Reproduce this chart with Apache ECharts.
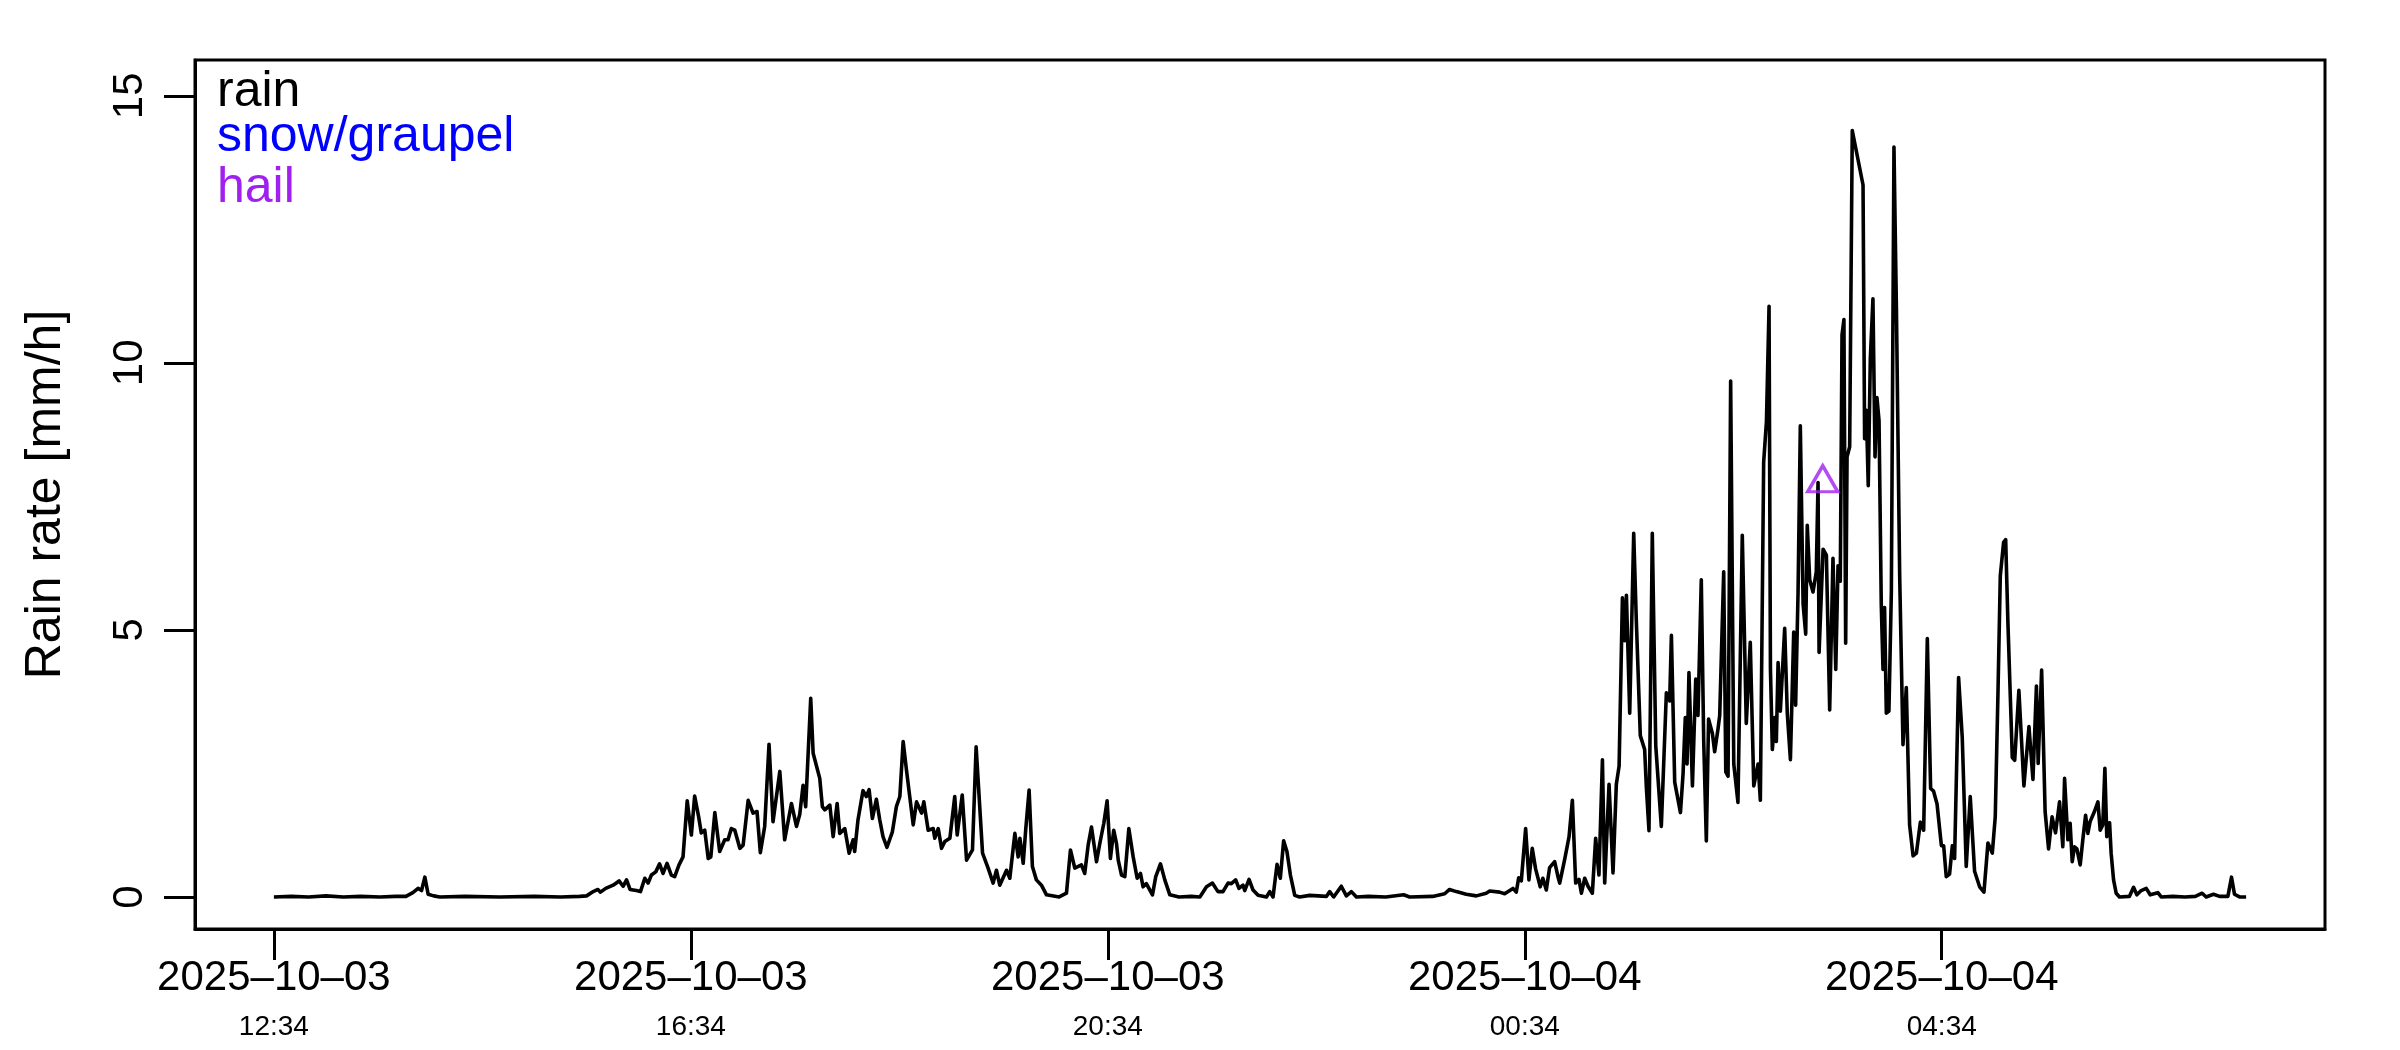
<!DOCTYPE html>
<html>
<head>
<meta charset="utf-8">
<script src="https://cdn.jsdelivr.net/npm/echarts@6/dist/echarts.min.js"></script>
<style>
html,body{margin:0;padding:0;background:#fff;}
#chart{width:2400px;height:1050px;}
</style>
</head>
<body>
<div id="chart"></div>
<script>
// Start of record: 2025-10-03 12:34 (minutes below are offsets from it)
const startTime = "2025-10-03T12:34:00Z";
const xTickMinutes = [0, 240, 480, 720, 960];
const yTicks = [0, 5, 10, 15];
const legendLabels = ["rain", "snow/graupel", "hail"];

const minutes = [
0,10,20,30,40,50,61,70,76,80,83,85,86.9,88.8,92,95.5,110,130,150,165,176,180,183.8,186.5,188,191,195.3,198.7,201,203,205,208.7,211,213.5,215.4,217.3,219.8,222,224,226.3,228.8,230.7,233.2,235.5,
237.9,240.3,242.2,244.5,246,248,250,251.5,253.8,256.6,259.5,261.4,263.3,265.3,268.2,270.1,273,275.8,278.1,280,282.5,285,287.3,291.2,294,297.9,300.8,302.7,304.6,306.1,309,310.4,314.2,315.7,317.1,320,321.9,324.2,325.7,328.6,331.1,333.4,334.3,336.2,339.1,341,342.6,344.5,346.8,348.7,350.6,352.9,356,358.3,
360.3,362.2,364.1,368,369.9,372.8,374.1,376.6,379.5,380.4,382.4,384.3,386.2,389.1,391.9,393.3,396.2,398.7,402.1,404.2,407.9,411.1,414,415.9,417.8,421.7,423.6,426.5,428.4,429.4,431.3,432.8,434.7,436.6,438.9,441.8,444.7,452,456.2,458.5,461,464.8,466.7,468.7,470.6,473.5,475.4,477.7,479.6,481.5,483.4,485,486,487.9,489.8,492.1,494.6,496.9,498.8,500.3,502.2,505.7,507.6,510.3,512.8,515.7,521,528,
533,536.8,540.2,543.4,546.3,549.2,551.1,553.6,555.5,557.8,558.8,561.3,563.6,566.5,571.3,573.2,575.1,577.4,579.3,581.2,583.1,585.1,587.6,590.4,596.2,605.8,607.7,610,614.4,617.3,620.2,623.1,630,640,650.3,653.7,667,673.9,676.7,680.6,686.3,692.1,697.8,699.8,705.5,708.4,713.2,715.1,716.5,718,720.5,722.4,724.3,726.2,728.9,730.4,732.4,734.3,737.2,739.1,
740.1,743,745.5,747.4,749.3,751.2,752.6,754.5,756.4,758.9,760.8,762.7,764.7,766,768.5,770.8,772.7,774.3,776.2,777.5,778.5,780.4,782.7,784.2,786.5,789,790,791.5,793.4,795.4,798.6,801.5,803.4,804.4,806.3,809.6,811.1,812.4,813.4,814.5,816.5,818.4,819.7,821.6,823,824.5,825.8,828,829.3,831.2,
832.2,834.5,835.7,837,838.5,840.3,842.7,845.2,847.5,849.8,851.8,854.3,855.6,857.5,859.1,860.6,861.4,862.5,863.9,864.8,865.8,867.1,869.6,871.1,872.9,874.8,875.9,877.3,878.6,880.2,881.7,882.6,884,885.9,887.8,888.8,889.4,891.7,893.6,
895.5,897.4,899,900.3,901.6,902.6,903.7,904.7,905.5,907,908.5,914.7,915.6,916.6,917.7,918.9,920.4,921.6,922.7,923.9,925.2,926.2,927.1,928.1,929.6,931,932.5,933.9,935.8,937.7,939.6,941.5,943.5,945.4,947.7,949.6,951.7,953.6,955.3,957.3,959.8,961.1,962.6,964.5,966.1,967.4,969.7,971.8,974.1,976.4,978.9,981.8,984.3,986.6,989.1,990.8,992.4,993.7,995.6,996.8,998.1,1000.6,1002,1004.4,1007.3,1010.2,
1012.5,1014.5,1015.5,1017.5,1019.5,1021.5,1023.5,1025.5,1027.8,1029.7,1030.7,1032.6,1033.9,1035.1,1036.4,1037.8,1039.7,1041.2,1042.8,1044.1,1045.4,1047.9,1049.9,1051.2,1052.7,1053.9,1055,1056.6,1057.5,1058.9,1060.4,1062.3,1068,1070.4,1072.3,1074.8,1077.7,1080,1084.4,1086.3,1093,1100,1106,1109.9,1112.2,1116.4,1119.9,1124.7,1126.8,1128.5,1131.4,1135.2
];

const rainRate = [
0,0.01,0,0.02,0,0.01,0,0.01,0.01,0.08,0.16,0.12,0.37,0.05,0.02,0,0.01,0,0.01,0,0.01,0.02,0.1,0.14,0.09,0.16,0.22,0.3,0.2,0.32,0.14,0.12,0.1,0.35,0.26,0.41,0.47,0.62,0.44,0.63,0.41,0.38,0.6,0.75,
1.80,1.16,1.89,1.5,1.2,1.25,0.72,0.75,1.58,0.85,1.07,1.07,1.28,1.25,0.91,0.97,1.81,1.57,1.6,0.83,1.32,2.86,1.41,2.35,1.07,1.75,1.32,1.55,2.09,1.69,3.72,2.69,2.22,1.69,1.63,1.72,1.13,1.75,1.19,1.28,0.82,1.07,0.85,1.44,1.99,1.88,2.01,1.47,1.83,1.45,1.13,0.93,1.22,1.69,
1.88,2.91,2.38,1.35,1.78,1.57,1.78,1.25,1.28,1.10,1.28,0.91,1.04,1.10,1.88,1.16,1.91,0.69,0.88,2.81,0.82,0.54,0.26,0.5,0.22,0.5,0.35,1.19,0.75,1.10,0.63,1.28,2.0,0.57,0.32,0.22,0.04,0,0.07,0.88,0.54,0.6,0.44,0.97,1.31,0.66,1.0,1.38,1.80,0.72,1.25,1.0,0.69,0.41,0.38,1.28,0.75,0.35,0.44,0.19,0.25,0.04,0.38,0.62,0.32,0.04,0,0.01,
0,0.19,0.26,0.1,0.1,0.26,0.25,0.32,0.16,0.22,0.12,0.33,0.13,0.03,0,0.1,0,0.61,0.35,1.05,0.85,0.41,0.03,0,0.03,0.01,0.1,0,0.2,0.02,0.1,0,0.01,0,0.04,0,0.01,0.06,0.14,0.1,0.05,0.02,0.07,0.11,0.09,0.06,0.16,0.09,0.36,0.3,1.28,0.32,0.91,0.53,0.19,0.35,0.13,0.55,0.66,0.38,
0.26,0.71,1.13,1.81,0.26,0.33,0.07,0.35,0.2,0.07,1.1,0.41,2.57,0.26,2.11,0.45,2.11,2.45,5.6,4.8,5.65,3.44,6.81,5.18,3.02,2.76,2.04,1.24,6.81,2.83,1.32,3.82,3.67,4.9,2.15,1.58,2.3,3.36,2.49,4.2,2.08,4.08,3.4,5.94,2.91,1.05,3.33,3.06,2.72,3.14,
3.4,6.09,2.34,2.26,9.66,2.49,1.77,6.77,3.25,4.77,2.08,2.49,1.81,8.14,8.9,11.06,4.27,2.76,3.36,2.91,4.39,3.48,5.03,3.44,2.57,4.96,3.59,5.71,8.82,5.49,4.92,6.96,5.94,5.71,6.09,7.76,4.58,6.51,6.4,
3.5,6.34,4.26,6.2,5.91,10.52,10.81,4.75,8.24,8.43,14.35,13.33,8.58,9.11,7.7,10.08,11.2,8.24,9.35,8.92,5.47,4.26,5.42,3.44,3.48,5.72,14.04,11.05,6.0,2.85,3.92,1.35,0.77,0.82,1.4,1.25,4.84,2.03,1.98,1.74,0.96,0.96,0.38,0.43,0.96,0.72,4.11,2.99,0.57,1.88,0.48,0.19,0.09,1.01,0.82,1.5,3.87,6.01,6.64,6.69,5.13,2.61,2.56,3.87,2.08,3.19,
2.2,3.95,2.5,4.25,1.6,0.9,1.5,1.2,1.78,0.94,2.22,1.07,1.38,0.66,0.94,0.9,0.6,1.07,1.53,1.19,1.41,1.6,1.78,1.25,1.35,2.41,1.13,1.39,0.82,0.32,0.07,0,0.01,0.18,0.04,0.12,0.16,0.04,0.08,0,0.01,0,0.01,0.07,0,0.05,0.01,0.01,0.37,0.05,0,0
];

const hailMinutes = [891.5];
const hailRate = [7.83];
const snowMinutes = [];
const snowRate = [];

const startMs = Date.parse(startTime);
function pad(n){ return (n < 10 ? '0' : '') + n; }
function fmtTick(v){
  const d = new Date(startMs + Math.round(v) * 60000);
  const date = d.getUTCFullYear() + '\u2013' + pad(d.getUTCMonth() + 1) + '\u2013' + pad(d.getUTCDate());
  const time = pad(d.getUTCHours()) + ':' + pad(d.getUTCMinutes());
  return '{d|' + date + '}\n{t|' + time + '}';
}

const rainData = minutes.map((m, i) => [m, rainRate[i]]);
const hailData = hailMinutes.map((m, i) => [m, hailRate[i]]);
const snowData = snowMinutes.map((m, i) => [m, snowRate[i]]);

const FONT = '"Liberation Sans", Arial, Helvetica, sans-serif';
const chart = echarts.init(document.getElementById('chart'), null, {renderer: 'canvas'});
chart.setOption({
  animation: false,
  backgroundColor: '#ffffff',
  textStyle: {fontFamily: FONT},
  grid: {
    left: 195, right: 75, top: 60, bottom: 121,
    containLabel: false, outerBoundsMode: 'none',
    show: true, borderColor: '#000', borderWidth: 3, backgroundColor: 'transparent'
  },
  xAxis: {
    type: 'value', min: -45.4, max: 1180.6,
    splitLine: {show: false},
    axisLine: {show: true, onZero: false, lineStyle: {color: '#000', width: 3}},
    axisTick: {show: true, length: 31, lineStyle: {color: '#000', width: 3}, customValues: xTickMinutes},
    axisLabel: {
      show: true, margin: 24, customValues: xTickMinutes, formatter: fmtTick,
      color: '#000', fontFamily: FONT,
      rich: {
        d: {fontSize: 42, lineHeight: 50, fontFamily: FONT, color: '#000', verticalAlign: 'middle'},
        t: {fontSize: 28, lineHeight: 48, fontFamily: FONT, color: '#000', verticalAlign: 'middle'}
      }
    }
  },
  yAxis: {
    type: 'value', min: -0.6, max: 15.67,
    name: 'Rain rate [mm/h]', nameLocation: 'middle', nameRotate: 90, nameGap: 124,
    nameTextStyle: {fontSize: 50, color: '#000', fontFamily: FONT},
    splitLine: {show: false},
    axisLine: {show: true, onZero: false, lineStyle: {color: '#000', width: 3}},
    axisTick: {show: true, length: 31, lineStyle: {color: '#000', width: 3}, customValues: yTicks},
    axisLabel: {show: true, margin: 44, rotate: 90, customValues: yTicks, fontSize: 42, color: '#000', fontFamily: FONT}
  },
  graphic: [
    {type: 'text', left: 217, top: 92.7 - 25, style: {text: legendLabels[0], fill: '#000000', font: '50px ' + FONT}},
    {type: 'text', left: 217, top: 137.2 - 25, style: {text: legendLabels[1], fill: '#0000FF', font: '50px ' + FONT}},
    {type: 'text', left: 217, top: 188.7 - 25, style: {text: legendLabels[2], fill: '#A020F0', font: '50px ' + FONT}}
  ],
  series: [
    {
      name: 'rain', type: 'line', data: rainData, showSymbol: false, symbol: 'none',
      lineStyle: {color: '#000', width: 3.6, join: 'round'}, z: 3, clip: true
    },
    {
      name: 'snow/graupel', type: 'scatter', data: snowData, symbol: 'triangle', symbolSize: [30, 26],
      itemStyle: {color: 'rgba(0,0,0,0)', borderColor: '#0000FF', borderWidth: 3}, z: 4
    },
    {
      name: 'hail', type: 'scatter', data: hailData, symbol: 'triangle', symbolSize: [30, 26],
      itemStyle: {color: 'rgba(0,0,0,0)', borderColor: '#A020F0', borderWidth: 3.4}, z: 5
    }
  ]
});
</script>
</body>
</html>
